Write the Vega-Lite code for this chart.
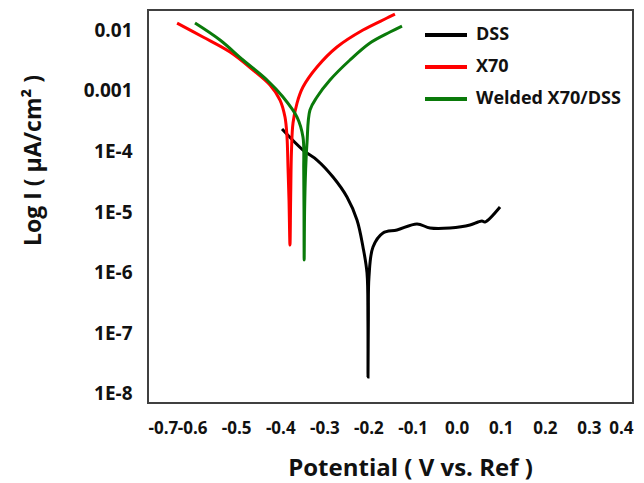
{
  "$schema": "https://vega.github.io/schema/vega-lite/v6.json",
  "width": 485,
  "height": 393,
  "autosize": {"type": "none"},
  "padding": {"left": 148, "top": 10, "right": 11, "bottom": 80},
  "background": "white",
  "config": {
    "view": {"stroke": "#404040", "strokeWidth": 2},
    "font": "Open Sans"
  },
  "data": {
    "values": [
      {"s": "DSS", "i": 0, "v": -0.396, "c": 2.33e-4},
      {"s": "DSS", "i": 1, "v": -0.3485, "c": 1.05e-4},
      {"s": "DSS", "i": 2, "v": -0.3167, "c": 7.2e-5},
      {"s": "DSS", "i": 3, "v": -0.2804, "c": 3.78e-5},
      {"s": "DSS", "i": 4, "v": -0.2487, "c": 1.77e-5},
      {"s": "DSS", "i": 5, "v": -0.226, "c": 7.38e-6},
      {"s": "DSS", "i": 6, "v": -0.2124, "c": 2.65e-6},
      {"s": "DSS", "i": 7, "v": -0.2033, "c": 9.88e-7},
      {"s": "DSS", "i": 8, "v": -0.2012, "c": 1.66e-7},
      {"s": "DSS", "i": 9, "v": -0.201, "c": 1.9e-8},
      {"s": "DSS", "i": 10, "v": -0.2002, "c": 1.66e-7},
      {"s": "DSS", "i": 11, "v": -0.1988, "c": 8.5e-7},
      {"s": "DSS", "i": 12, "v": -0.1897, "c": 2.65e-6},
      {"s": "DSS", "i": 13, "v": -0.167, "c": 4.51e-6},
      {"s": "DSS", "i": 14, "v": -0.1353, "c": 5.05e-6},
      {"s": "DSS", "i": 15, "v": -0.0899, "c": 6.34e-6},
      {"s": "DSS", "i": 16, "v": -0.0604, "c": 5.45e-6},
      {"s": "DSS", "i": 17, "v": -0.0151, "c": 5.45e-6},
      {"s": "DSS", "i": 18, "v": 0.0303, "c": 6.1e-6},
      {"s": "DSS", "i": 19, "v": 0.0485, "c": 6.84e-6},
      {"s": "DSS", "i": 20, "v": 0.0575, "c": 7.11e-6},
      {"s": "DSS", "i": 21, "v": 0.0643, "c": 6.84e-6},
      {"s": "DSS", "i": 22, "v": 0.0984, "c": 1.21e-5},
      {"s": "X70", "i": 0, "v": -0.634, "c": 0.01303},
      {"s": "X70", "i": 1, "v": -0.5753, "c": 0.00767},
      {"s": "X70", "i": 2, "v": -0.514, "c": 0.004335},
      {"s": "X70", "i": 3, "v": -0.4619, "c": 0.002193},
      {"s": "X70", "i": 4, "v": -0.4233, "c": 0.001239},
      {"s": "X70", "i": 5, "v": -0.4006, "c": 0.000701},
      {"s": "X70", "i": 6, "v": -0.3893, "c": 0.000368},
      {"s": "X70", "i": 7, "v": -0.3847, "c": 0.000172},
      {"s": "X70", "i": 8, "v": -0.3825, "c": 5.52e-5},
      {"s": "X70", "i": 9, "v": -0.3802, "c": 1.58e-5},
      {"s": "X70", "i": 10, "v": -0.378, "c": 2.86e-6},
      {"s": "X70", "i": 11, "v": -0.3765, "c": 1.58e-5},
      {"s": "X70", "i": 12, "v": -0.3745, "c": 1.05e-4},
      {"s": "X70", "i": 13, "v": -0.3711, "c": 2.93e-4},
      {"s": "X70", "i": 14, "v": -0.362, "c": 6.26e-4},
      {"s": "X70", "i": 15, "v": -0.3485, "c": 1.148e-3},
      {"s": "X70", "i": 16, "v": -0.3167, "c": 2.455e-3},
      {"s": "X70", "i": 17, "v": -0.2714, "c": 5.25e-3},
      {"s": "X70", "i": 18, "v": -0.2124, "c": 0.01},
      {"s": "X70", "i": 19, "v": -0.158, "c": 0.01578},
      {"s": "X70", "i": 20, "v": -0.1399, "c": 0.01836},
      {"s": "Welded X70/DSS", "i": 0, "v": -0.5934, "c": 0.01303},
      {"s": "Welded X70/DSS", "i": 1, "v": -0.5367, "c": 0.00684},
      {"s": "Welded X70/DSS", "i": 2, "v": -0.4845, "c": 0.003206},
      {"s": "Welded X70/DSS", "i": 3, "v": -0.4301, "c": 0.0015},
      {"s": "Welded X70/DSS", "i": 4, "v": -0.3938, "c": 7.87e-4},
      {"s": "Welded X70/DSS", "i": 5, "v": -0.362, "c": 3.68e-4},
      {"s": "Welded X70/DSS", "i": 6, "v": -0.3485, "c": 1.72e-4},
      {"s": "Welded X70/DSS", "i": 7, "v": -0.3468, "c": 4.92e-5},
      {"s": "Welded X70/DSS", "i": 8, "v": -0.3462, "c": 1.08e-5},
      {"s": "Welded X70/DSS", "i": 9, "v": -0.3458, "c": 1.62e-6},
      {"s": "Welded X70/DSS", "i": 10, "v": -0.3448, "c": 1.08e-5},
      {"s": "Welded X70/DSS", "i": 11, "v": -0.3425, "c": 4.92e-5},
      {"s": "Welded X70/DSS", "i": 12, "v": -0.3394, "c": 1.37e-4},
      {"s": "Welded X70/DSS", "i": 13, "v": -0.3326, "c": 4.8e-4},
      {"s": "Welded X70/DSS", "i": 14, "v": -0.3167, "c": 7.87e-4},
      {"s": "Welded X70/DSS", "i": 15, "v": -0.2872, "c": 0.0015},
      {"s": "Welded X70/DSS", "i": 16, "v": -0.2419, "c": 0.003206},
      {"s": "Welded X70/DSS", "i": 17, "v": -0.1965, "c": 0.00611},
      {"s": "Welded X70/DSS", "i": 18, "v": -0.1511, "c": 0.00927},
      {"s": "Welded X70/DSS", "i": 19, "v": -0.1239, "c": 0.01164}
    ]
  },
  "mark": {"type": "line", "strokeWidth": 3, "interpolate": "catmull-rom", "clip": true},
  "encoding": {
    "x": {
      "field": "v",
      "type": "quantitative",
      "scale": {"domain": [-0.7, 0.4], "nice": false, "zero": false},
      "axis": {
        "values": [-0.7, -0.6, -0.5, -0.4, -0.3, -0.2, -0.1, 0, 0.1, 0.2, 0.3, 0.4],
        "labelExpr": "replace(format(datum.value, '.1f'), '\u2212', '-')",
        "grid": false,
        "ticks": false,
        "domain": false,
        "labelFont": "Open Sans",
        "labelFontWeight": "bold",
        "labelFontSize": 17,
        "labelColor": "#111",
        "labelPadding": 17,
        "labelOverlap": false,
        "title": "Potential ( V vs. Ref )",
        "titleFont": "Open Sans",
        "titleFontWeight": "bold",
        "titleFontSize": 24,
        "titleColor": "#111",
        "titleX": 262,
        "titleY": 65,
        "titleBaseline": "middle",
        "titleAlign": "center"
      }
    },
    "y": {
      "field": "c",
      "type": "quantitative",
      "scale": {"type": "log", "domain": [7.1e-9, 0.0214], "nice": false},
      "axis": {
        "values": [1e-8, 1e-7, 1e-6, 1e-5, 1e-4, 0.001, 0.01],
        "labelExpr": "datum.value > 0.005 ? '0.01' : (datum.value > 0.0005 ? '0.001' : '1E' + round(log(datum.value) / LN10))",
        "grid": false,
        "ticks": false,
        "domain": false,
        "labelFont": "Open Sans",
        "labelFontWeight": "bold",
        "labelFontSize": 19,
        "labelColor": "#111",
        "labelPadding": 16,
        "labelOverlap": false,
        "title": "Log I ( \u00b5A/cm\u00b2 )",
        "titleFont": "Open Sans",
        "titleFontWeight": "bold",
        "titleFontSize": 23,
        "titleColor": "#111",
        "titleX": -115,
        "titleY": 150,
        "titleBaseline": "middle",
        "titleAlign": "center",
        "titleAngle": -90
      }
    },
    "color": {
      "field": "s",
      "type": "nominal",
      "sort": ["DSS", "X70", "Welded X70/DSS"],
      "scale": {"domain": ["DSS", "X70", "Welded X70/DSS"], "range": ["#000000", "#ff0000", "#0a7a0a"]},
      "legend": {
        "title": null,
        "orient": "none",
        "legendX": 275,
        "legendY": 2,
        "padding": 0,
        "symbolType": "stroke",
        "symbolSize": 1764,
        "symbolStrokeWidth": 4,
        "labelFont": "Open Sans",
        "labelFontWeight": "bold",
        "labelFontSize": 18,
        "labelColor": "#111",
        "labelOffset": 7,
        "rowPadding": -16
      }
    },
    "order": {"field": "i", "type": "quantitative"}
  }
}
